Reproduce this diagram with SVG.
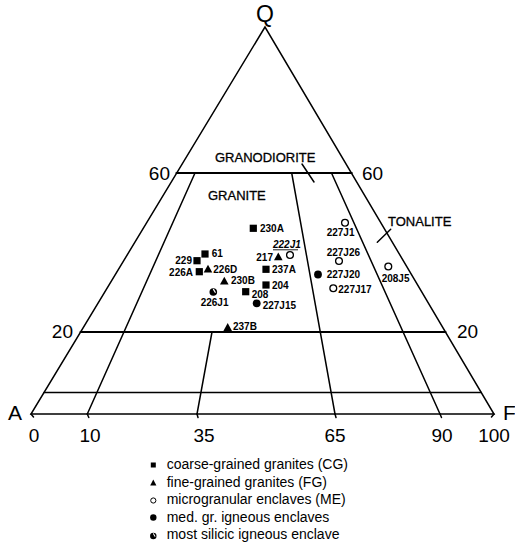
<svg xmlns="http://www.w3.org/2000/svg" xmlns:xlink="http://www.w3.org/1999/xlink" width="515" height="555" viewBox="0 0 515 555">
<style>
text{font-family:"Liberation Sans",Arial,Helvetica,sans-serif;fill:#000}
.ln{stroke:#000;stroke-width:1.5;fill:none;stroke-linecap:round}
.thk{stroke-width:2.2}
.lbl{font-size:10px;font-weight:bold}
.fld{font-size:13px;stroke:#000;stroke-width:0.3}
.ax{font-size:19px}
.leg{font-size:14px}
</style>
<defs>
<rect id="sq" x="-3.6" y="-3.6" width="7.2" height="7.2" fill="#000"/>
<path id="tri" d="M0,-4.2 L4.3,3.6 L-4.3,3.6Z" fill="#000"/>
<circle id="oc" r="3.4" fill="#fff" stroke="#000" stroke-width="1.3"/>
<circle id="fc" r="3.9" fill="#000"/>
<g id="hc"><circle r="3.8" fill="#000"/><path d="M0.2,-2.6 L1.9,0.3" stroke="#fff" stroke-width="1.2" stroke-linecap="round"/></g>
</defs>
<rect width="515" height="555" fill="#fff"/>

<g id="connectors">
<path class="ln" d="M265,27 L31,414 L494,414 Z" stroke-linejoin="miter"/>
<line class="ln thk" x1="176.5" y1="173" x2="351.7" y2="173"/>
<line class="ln thk" x1="80.6" y1="332" x2="445.5" y2="332"/>
<line class="ln" x1="44" y1="392.5" x2="481.3" y2="392.5"/>
<line class="ln" x1="87.3" y1="414" x2="195" y2="173"/>
<line class="ln" x1="197" y1="414" x2="212" y2="332"/>
<line class="ln" x1="335" y1="414" x2="291.7" y2="173"/>
<line class="ln" x1="440" y1="414" x2="331.5" y2="173"/>
<path class="ln" d="M31,414 l2.5,3 M87.3,414 l1.5,3.5 M197,414 l1,3.5 M335,414 l1,3.5 M440,414 l1.5,3.5 M494,414 l-2.5,3"/>
<line class="ln" x1="302" y1="164" x2="314" y2="182"/>
<line class="ln" x1="390.7" y1="229.3" x2="377.3" y2="242.3"/>
</g>

<g id="axis-labels">
<text x="265" y="22" text-anchor="middle" style="font-size:23px">Q</text>
<text x="8" y="420" style="font-size:21px">A</text>
<text x="503" y="420" style="font-size:21px">F</text>
<text class="ax" x="170" y="180" text-anchor="end">60</text>
<text class="ax" x="362" y="180">60</text>
<text class="ax" x="73" y="338" text-anchor="end">20</text>
<text class="ax" x="457" y="338">20</text>
<text class="ax" x="34" y="442" text-anchor="middle">0</text>
<text class="ax" x="90" y="442" text-anchor="middle">10</text>
<text class="ax" x="204" y="442" text-anchor="middle">35</text>
<text class="ax" x="335" y="442" text-anchor="middle">65</text>
<text class="ax" x="442" y="442" text-anchor="middle">90</text>
<text class="ax" x="494" y="442" text-anchor="middle">100</text>
</g>

<g id="fields">
<text class="fld" x="215" y="162">GRANODIORITE</text>
<text class="fld" x="208" y="200">GRANITE</text>
<text class="fld" x="388" y="226">TONALITE</text>
</g>

<g id="p230A"><use href="#sq" x="253.3" y="228.3"/><text class="lbl" x="260" y="232">230A</text></g>
<g id="p222J1"><use href="#oc" x="290" y="255"/><text class="lbl" x="273" y="248" font-style="italic">222J1</text><line x1="273" y1="249.8" x2="298" y2="249.8" stroke="#000" stroke-width="0.9"/></g>
<g id="p217"><use href="#tri" x="278.3" y="256.7"/><text class="lbl" x="273" y="261" text-anchor="end">217</text></g>
<g id="p237A"><use href="#sq" x="266" y="269.3"/><text class="lbl" x="272" y="273.3">237A</text></g>
<g id="p204"><use href="#sq" x="266" y="285"/><text class="lbl" x="272" y="289">204</text></g>
<g id="p208"><use href="#sq" x="245.7" y="291.7"/><text class="lbl" x="251.7" y="298">208</text></g>
<g id="p227J15"><use href="#fc" x="256.7" y="303.3"/><text class="lbl" x="262.7" y="309.3">227J15</text></g>
<g id="p226J1"><use href="#hc" x="213.3" y="292"/><text class="lbl" x="200.7" y="306">226J1</text></g>
<g id="p230B"><use href="#tri" x="224.3" y="281"/><text class="lbl" x="231" y="284">230B</text></g>
<g id="p226D"><use href="#tri" x="208" y="269"/><text class="lbl" x="213.3" y="272.7">226D</text></g>
<g id="p61"><use href="#sq" x="205" y="254"/><text class="lbl" x="211.7" y="256.7">61</text></g>
<g id="p229"><use href="#sq" x="197" y="260.7"/><text class="lbl" x="192" y="264" text-anchor="end">229</text></g>
<g id="p226A"><use href="#sq" x="199.3" y="271.7"/><text class="lbl" x="193" y="275.7" text-anchor="end">226A</text></g>
<g id="p237B"><use href="#tri" x="227.7" y="327.3"/><text class="lbl" x="233" y="330">237B</text></g>
<g id="p227J1"><use href="#oc" x="345" y="222.7"/><text class="lbl" x="326.7" y="236">227J1</text></g>
<g id="p227J26"><use href="#oc" x="339" y="261"/><text class="lbl" x="326.7" y="256">227J26</text></g>
<g id="p227J20"><use href="#fc" x="318" y="274.5"/><text class="lbl" x="326.7" y="278.3">227J20</text></g>
<g id="p227J17"><use href="#oc" x="333.3" y="288.3"/><text class="lbl" x="338.3" y="292.7">227J17</text></g>
<g id="p208J5"><use href="#oc" x="388.3" y="266.5"/><text class="lbl" x="381.7" y="282">208J5</text></g>

<g id="legend">
<rect x="150.8" y="462.5" width="5" height="5" fill="#000"/>
<path d="M153.3,479.5 L156.4,485.5 L150.2,485.5Z" fill="#000"/>
<circle cx="153.3" cy="500.5" r="2.6" fill="#fff" stroke="#000" stroke-width="1"/>
<circle cx="153.3" cy="517.5" r="3.2" fill="#000"/>
<g transform="translate(153.3,536) scale(0.85)"><use href="#hc"/></g>
<text class="leg" x="166.7" y="469.3">coarse-grained granites (CG)</text>
<text class="leg" x="166.7" y="486.7">fine-grained granites (FG)</text>
<text class="leg" x="166.7" y="504.3">microgranular enclaves  (ME)</text>
<text class="leg" x="166.7" y="521.7">med. gr. igneous enclaves</text>
<text class="leg" x="166.7" y="539.3">most silicic igneous enclave</text>
</g>
</svg>
